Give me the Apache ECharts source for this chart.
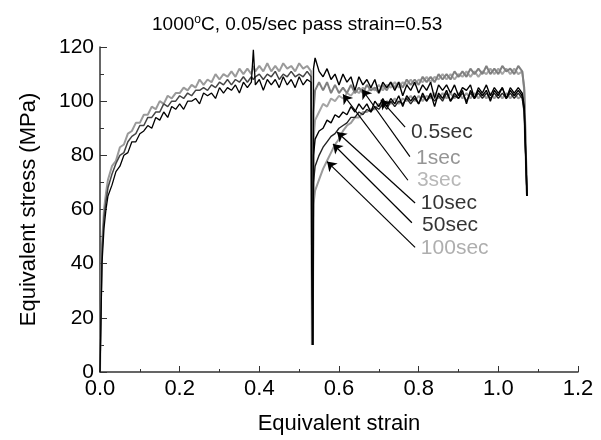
<!DOCTYPE html>
<html>
<head>
<meta charset="utf-8">
<script src="https://cdn.jsdelivr.net/npm/echarts@6/dist/echarts.min.js"></script>
<style>html,body{margin:0;padding:0;background:#fff;}#chart{width:601px;height:440px;}</style>
</head>
<body>
<div id="chart"></div>
<script>
// ---- First pass (strain 0 -> 0.53), three overlapping noisy records ----
const strain1 = [0,0.002,0.005,0.01,0.015,0.02,0.03,0.04,0.05,0.06,0.07,0.08,0.09,0.10,0.11,0.12,0.13,0.14,0.15,0.16,0.17,0.18,0.19,0.20,0.21,0.22,0.23,0.24,0.25,0.26,0.27,0.28,0.29,0.30,0.31,0.32,0.33,0.34,0.35,0.36,0.37,0.38,0.385,0.39,0.40,0.41,0.42,0.43,0.44,0.45,0.46,0.47,0.48,0.49,0.50,0.51,0.52,0.53,0.531,0.532];
const pass1Black = [0,16,40,53,60,65,69,74,76,80,81,85,85,88,89,91,90,94,93,96,94,98,97,99,97,100,100,101,99,103,102,103,101,105,103,105,104,106,103,107,105,107,119,106,108,104,108,106,108,105,109,106,108,105,109,106,108,107,60,10];
const pass1Dark  = [0,19,44,57,63,68,73,77,80,81,85,87,88,91,91,94,94,96,96,99,98,100,100,102,101,103,102,104,104,105,104,106,105,107,106,108,106,108,107,109,107,109,108,109,110,108,110,109,111,108,110,109,111,109,110,109,111,109,60,10];
const pass1Gray  = [0,22,47,60,66,71,76,78,83,84,88,89,92,92,95,95,98,97,100,99,102,101,103,103,105,104,106,105,108,106,108,107,110,108,110,109,111,109,112,110,112,110,113,111,113,111,114,111,113,111,114,112,113,111,114,112,113,111,60,10];

// ---- Second pass (after hold), one record per hold time ----
const strain2 = [0.534,0.536,0.54,0.55,0.56,0.57,0.58,0.59,0.60,0.61,0.62,0.63,0.64,0.65,0.66,0.67,0.68,0.69,0.70,0.71,0.72,0.73,0.74,0.75,0.76,0.77,0.78,0.79,0.80,0.81,0.82,0.83,0.84,0.85,0.86,0.87,0.88,0.89,0.90,0.91,0.92,0.93,0.94,0.95,0.96,0.97,0.98,0.99,1.00,1.01,1.02,1.03,1.04,1.05,1.06,1.065,1.072];
const hold05s = [10,112,116,111,109,112,108,110,106,110,107,109,104,109,106,108,105,108,103,107,105,107,104,107,102,106,104,107,103,106,104,107,101,106,104,106,103,106,102,105,104,106,101,105,103,106,102,105,103,105,101,105,103,105,103,98,65];
const hold1s  = [10,96,104,107,104,107,103,106,103,105,103,106,103,105,103,106,104,105,103,106,104,107,105,107,105,108,106,108,106,109,107,109,107,110,108,110,108,111,109,111,109,112,110,112,110,113,110,112,110,113,111,112,110,113,111,105,65];
const hold3s  = [10,86,93,96,99,98,101,100,102,101,103,102,104,103,105,103,105,104,106,104,106,105,107,105,107,106,108,106,108,107,109,107,109,108,110,108,110,108,110,109,111,109,111,109,111,110,112,110,112,110,112,110,112,110,111,104,65];
const hold10s = [10,80,86,89,90,93,92,95,94,96,95,98,96,99,97,99,96,100,98,101,98,101,99,102,98,102,100,102,99,103,100,103,98,103,101,104,100,103,101,104,99,104,101,104,102,104,100,104,102,105,101,104,102,104,102,97,65];
const hold50s = [10,70,76,80,83,85,87,88,90,91,92,94,94,96,95,97,96,98,97,99,97,100,98,100,99,101,99,101,99,102,100,102,100,102,100,103,100,102,101,103,100,103,101,103,101,103,101,103,101,103,101,103,101,103,101,96,65];
const hold100s= [10,62,67,71,75,78,81,84,86,89,91,92,94,94,96,96,97,97,99,98,100,99,101,99,101,100,102,100,102,100,102,101,103,101,103,101,103,101,103,101,103,101,103,101,103,101,103,101,103,101,103,101,103,101,102,96,65];

// ---- Annotations ----
const holdLabels = ['0.5sec','1sec','3sec','10sec','50sec','100sec'];
const labelX = [0.778,0.791,0.793,0.803,0.806,0.803];
const labelY = [88.6,78.8,70.8,62.4,54.3,45.6];
const labelColors = ['#000','#7a7a7a','#a5a5a5','#000','#000','#9a9a9a'];
const arrowFromX = [0.766,0.778,0.773,0.791,0.783,0.791];
const arrowFromY = [90.4,79.5,70.8,62.4,55.1,46.0];
const arrowToX = [0.705,0.658,0.610,0.595,0.585,0.570];
const arrowToY = [100.5,104.3,102.5,88.6,84.2,77.7];

const xTicks = [0.0,0.2,0.4,0.6,0.8,1.0,1.2];
const yTicks = [0,20,40,60,80,100,120];

function pairs(xs, ys){ return xs.map((x,i)=>[x, ys[i]]); }

const FONT = 'Liberation Sans, Arial, sans-serif';
const chart = echarts.init(document.getElementById('chart'), null, {renderer:'canvas'});

function lineSeries(name, xs, ys, color, width){
  return {name, type:'line', data:pairs(xs,ys), showSymbol:false, symbol:'none',
    lineStyle:{color, width}, animation:false, z:2};
}

const option = {
  animation:false,
  backgroundColor:'#fff',
  title:{
    text:'1000{sup|o}C, 0.05/sec pass strain=0.53',
    left:147, top:9,
    textStyle:{fontFamily:FONT, fontSize:19, fontWeight:'normal', color:'#000',
      rich:{sup:{fontFamily:FONT, fontSize:12, color:'#000', padding:[0,0,10,0]}}}
  },
  grid:{left:100, right:23, top:47, bottom:64, containLabel:false},
  xAxis:{
    type:'value', min:0, max:1.2, interval:0.2,
    name:'Equivalent strain', nameLocation:'middle', nameGap:41,
    nameTextStyle:{fontFamily:FONT, fontSize:22, color:'#000'},
    axisLine:{show:true, onZero:false, lineStyle:{color:'#333', width:1.5}},
    axisTick:{show:true, inside:true, length:6, lineStyle:{color:'#333', width:1}},
    minorTick:{show:true, splitNumber:2, length:3, lineStyle:{color:'#333', width:1}},
    splitLine:{show:false},
    axisLabel:{fontFamily:FONT, fontSize:22, color:'#000', margin:6,
      formatter:v=>{ const t = xTicks.find(k=>Math.abs(k-v)<1e-6); return (t===undefined?v:t).toFixed(1); }}
  },
  yAxis:{
    type:'value', min:0, max:120, interval:20,
    name:'Equivalent stress (MPa)', nameLocation:'middle', nameGap:60,
    nameTextStyle:{fontFamily:FONT, fontSize:22, color:'#000'},
    axisLine:{show:true, onZero:false, lineStyle:{color:'#333', width:1.5}},
    axisTick:{show:true, inside:true, length:7, lineStyle:{color:'#333', width:1}},
    minorTick:{show:true, splitNumber:2, length:4, lineStyle:{color:'#333', width:1}},
    splitLine:{show:false},
    axisLabel:{fontFamily:FONT, fontSize:21, color:'#000', margin:6,
      formatter:v=>{ const t = yTicks.find(k=>Math.abs(k-v)<1e-6); return String(t===undefined?v:t); }}
  },
  series:[
    lineSeries('pass1 gray', strain1, pass1Gray, '#9a9a9a', 2),
    lineSeries('pass1 dark', strain1, pass1Dark, '#444', 1.5),
    lineSeries('pass1 black', strain1, pass1Black, '#000', 1.3),
    lineSeries('100sec', strain2, hold100s, '#9a9a9a', 2),
    lineSeries('3sec', strain2, hold3s, '#a5a5a5', 2),
    lineSeries('1sec', strain2, hold1s, '#808080', 2),
    lineSeries('50sec', strain2, hold50s, '#222', 1.4),
    lineSeries('10sec', strain2, hold10s, '#000', 1.4),
    lineSeries('0.5sec', strain2, hold05s, '#000', 1.4),
    {
      name:'arrows', type:'lines', coordinateSystem:'cartesian2d', z:5,
      symbol:['none','arrow'], symbolSize:9, animation:false,
      lineStyle:{color:'#000', width:1.2, opacity:1},
      data: holdLabels.map((n,i)=>({coords:[[arrowFromX[i],arrowFromY[i]],[arrowToX[i],arrowToY[i]]]}))
    },
    {
      name:'labels', type:'scatter', z:6, symbolSize:2, animation:false,
      itemStyle:{color:'rgba(255,255,255,0)'},
      label:{show:true, position:'right', distance:0, fontFamily:FONT, fontSize:21,
        formatter:p=>p.name},
      labelLayout:{hideOverlap:false},
      data: holdLabels.map((n,i)=>({name:n, value:[labelX[i],labelY[i]], label:{color:labelColors[i]}}))
    }
  ]
};
chart.setOption(option);
</script>
</body>
</html>
